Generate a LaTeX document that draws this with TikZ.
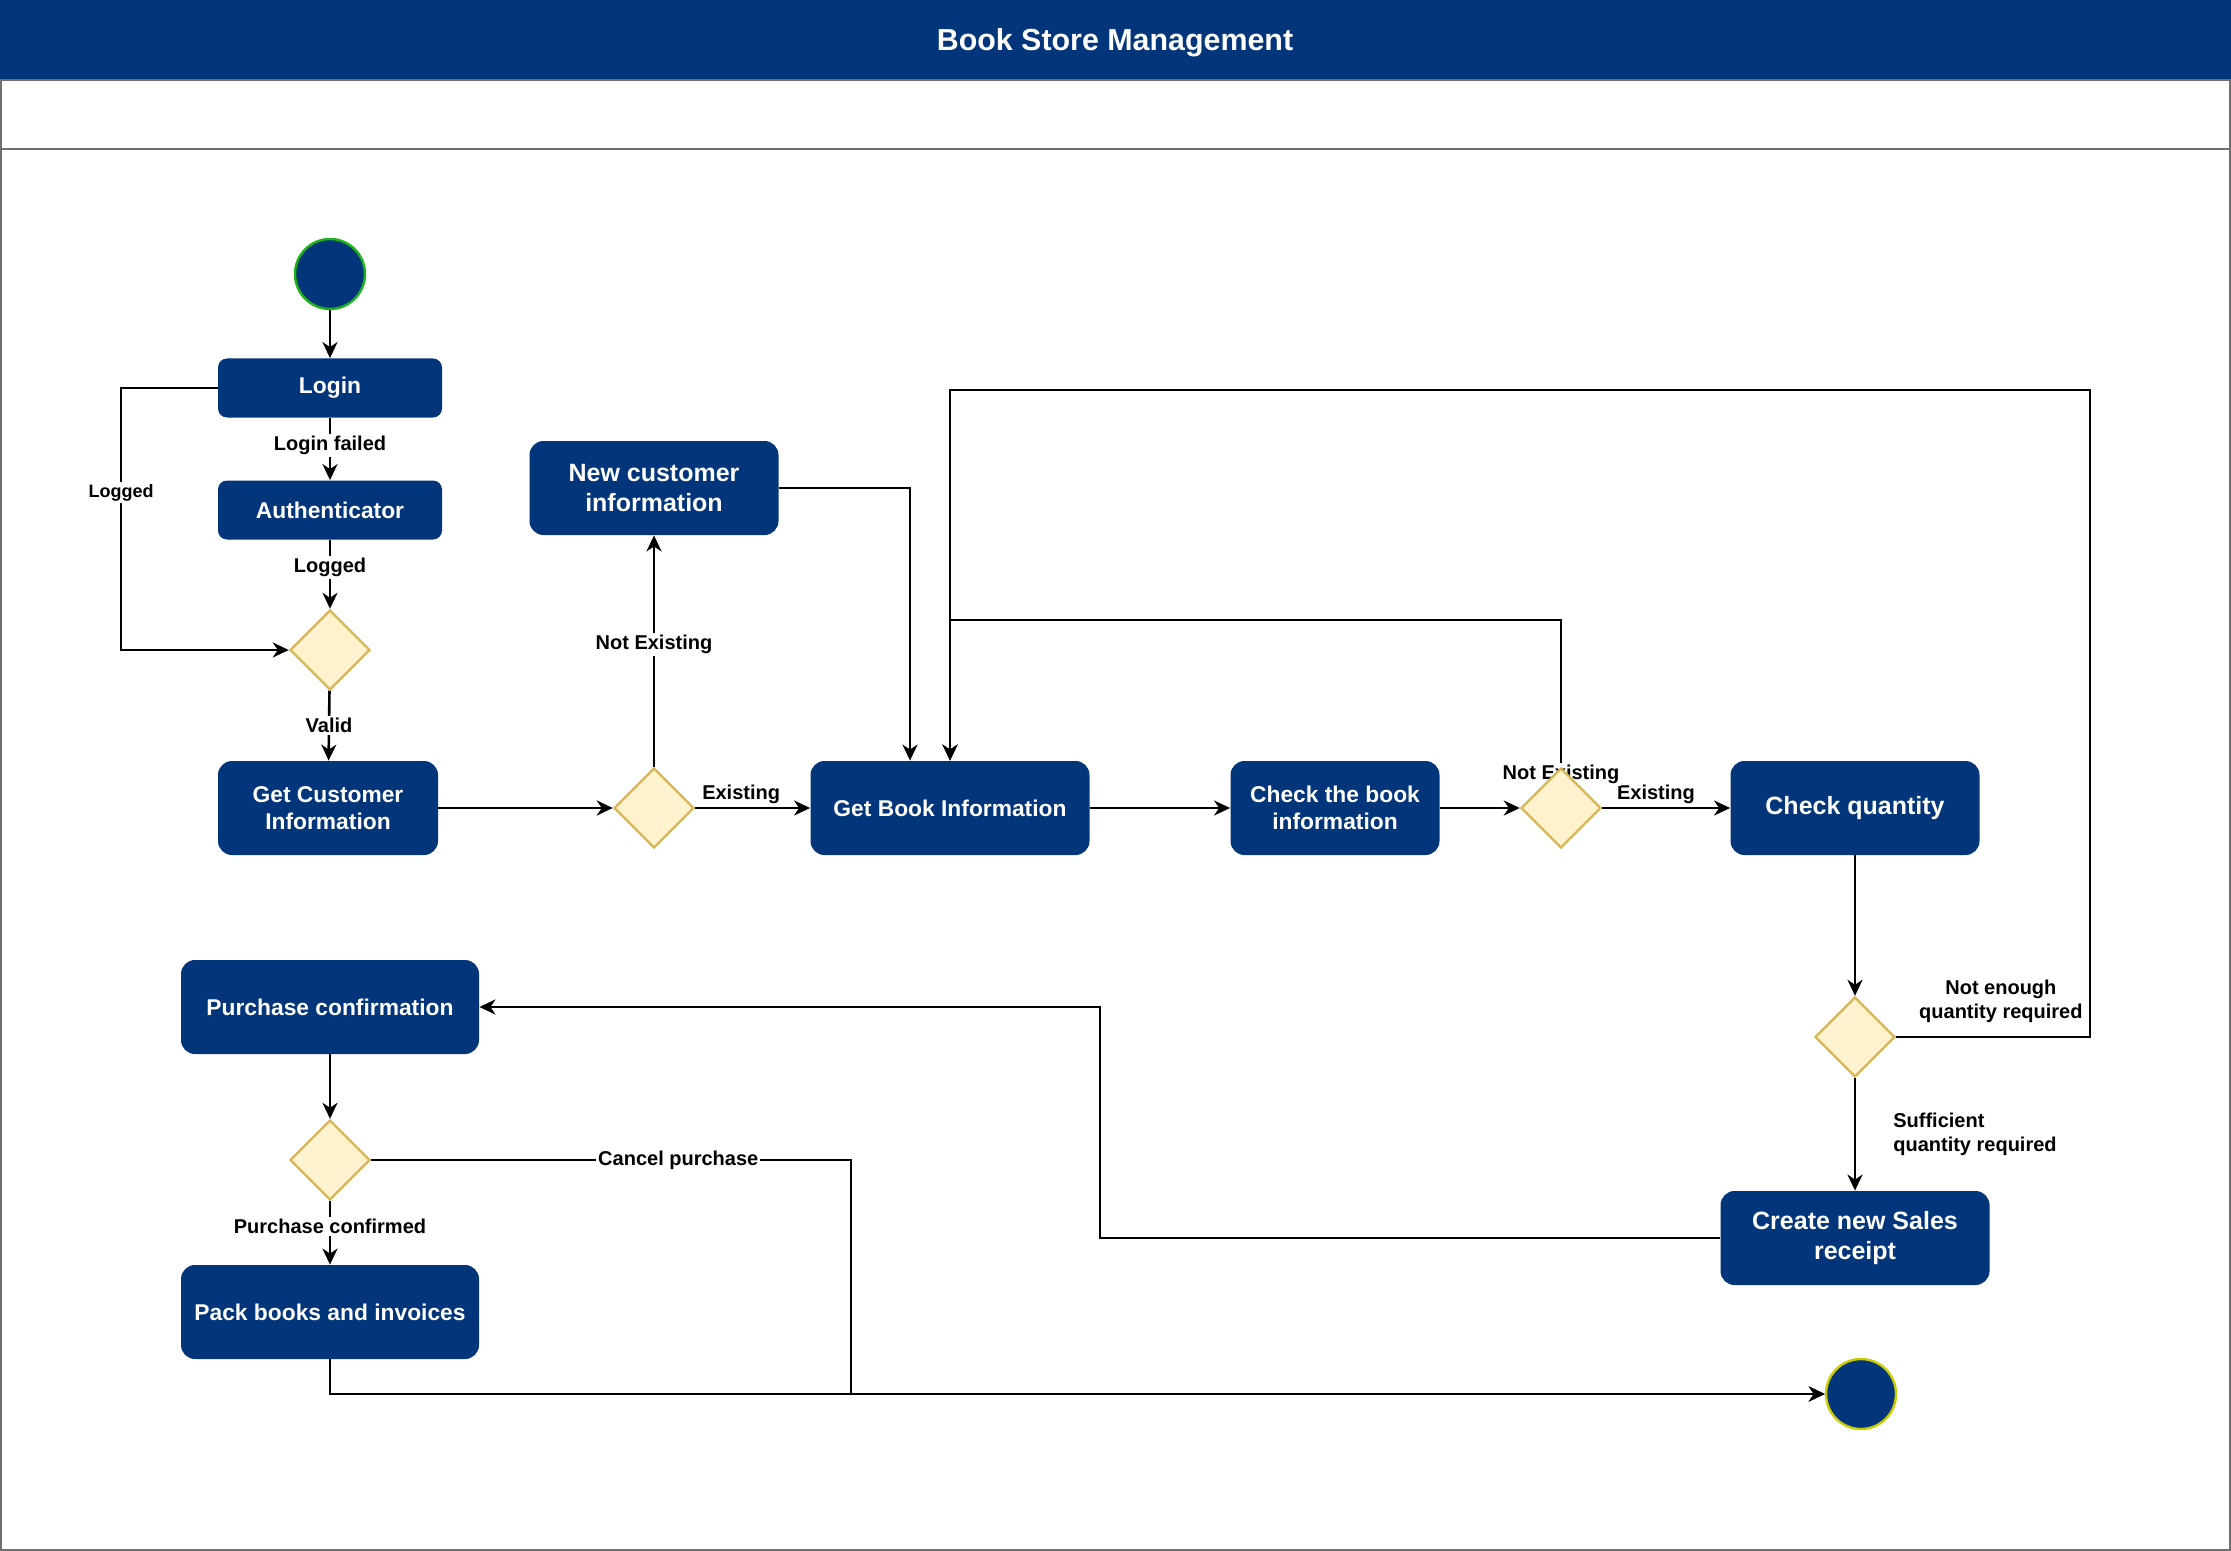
\documentclass[tikz,border=0pt]{standalone}
\usepackage{fontspec}
\setmainfont{Liberation Sans}
\usetikzlibrary{arrows.meta, shapes.geometric, backgrounds}
\definecolor{storeblue}{HTML}{02357A}
\definecolor{choicefill}{HTML}{FFF2CC}
\definecolor{choiceedge}{HTML}{D6B656}
\definecolor{startgreen}{HTML}{1DB31D}
\definecolor{endyellow}{HTML}{CCCC00}
\definecolor{framegray}{HTML}{707070}
\tikzset{
    action/.style={
        rectangle, rounded corners=7pt, fill=storeblue, text=white,
        font=\bfseries\fontsize{11.4}{13.6}\selectfont,
        align=center, inner sep=0pt, minimum height=47pt
    },
    smallaction/.style={action, rounded corners=4.5pt, minimum width=112pt, minimum height=29.5pt},
    bigaction/.style={action, font=\bfseries\fontsize{12.5}{15}\selectfont},
    choice/.style={
        diamond, draw=choiceedge, fill=choicefill, line width=1.2pt,
        inner sep=0pt, minimum width=40pt, minimum height=40pt
    },
    startdot/.style={circle, fill=storeblue, draw=startgreen, line width=1.2pt, minimum size=35pt, inner sep=0pt},
    enddot/.style={circle, fill=storeblue, draw=endyellow, line width=1.2pt, minimum size=35pt, inner sep=0pt},
    flow/.style={draw, line width=1.3pt, ->},
    lbl/.style={fill=white, text=black, inner sep=1pt, font=\bfseries\fontsize{10}{12}\selectfont},
    smalllbl/.style={lbl, font=\bfseries\fontsize{9}{11}\selectfont},
    titletext/.style={text=white, font=\bfseries\fontsize{15.2}{18}\selectfont}
}

\begin{document}
\begin{tikzpicture}[
    x=0.5pt, y=-0.5pt,
    >={Stealth[length=8pt, width=7.5pt, inset=2.5pt]}
]
    \useasboundingbox (0,0) rectangle (2231,1551);
    \fill[storeblue] (0,0) rectangle (2231,80);
    \draw[framegray, line width=0.8pt] (1,80) rectangle (2230,1550);
    \draw[framegray, line width=0.8pt] (1,149) -- (2230,149);
    \node[titletext] (title) at (1115,43) {Book Store Management};

    \node[startdot] (start) at (330,274) {};
    \node[smallaction] (login) at (330,388) {Login};
    \node[smallaction] (auth) at (330,510) {Authenticator};
    \node[choice] (valid) at (330,650) {};
    \node[action, minimum width=110pt] (customer) at (328,808) {Get Customer\\Information};
    \node[choice] (exists) at (654,808) {};
    \node[bigaction, minimum width=124.5pt] (newcustomer) at (654,488) {New customer\\information};
    \node[action, minimum width=139.5pt] (bookinfo) at (950,808) {Get Book Information};
    \node[action, minimum width=104.5pt] (checkbook) at (1335,808) {Check the book\\information};
    \node[choice] (bookfound) at (1561,808) {};
    \node[bigaction, minimum width=124.5pt] (quantity) at (1855,808) {Check quantity};
    \node[choice] (enough) at (1855,1037) {};
    \node[bigaction, minimum width=134.5pt] (receipt) at (1855,1238) {Create new Sales\\receipt};
    \node[action, minimum width=149pt] (confirm) at (330,1007) {Purchase confirmation};
    \node[choice] (decide) at (330,1160) {};
    \node[action, minimum width=149pt] (pack) at (330,1312) {Pack books and invoices};
    \node[enddot] (finish) at (1861,1394) {};

    \coordinate (loginturn) at (121,388);
    \coordinate (stockturn) at (1561,620);
    \coordinate (shortturn) at (2090,390);
    \coordinate (receiptturn) at (1100,1238);
    \coordinate (cancelturn) at (851,1160);

    \begin{scope}[on background layer]
        \draw[flow] (start) -- (login);
        \draw[flow] (login) -- node[lbl, pos=0.44] {Login failed} (auth);
        \draw[flow] (auth) -- node[lbl, pos=0.4] {Logged} (valid);
        \draw[flow] (login.west) -- (loginturn) |- node[smalllbl, pos=0.2] {Logged} (valid.west);
        \draw[flow] (valid) -- node[lbl] {Valid} (customer);
        \draw[flow] (customer) -- (exists);
        \draw[flow] (exists) -- node[lbl, pos=0.53] {Not Existing} (newcustomer);
        \draw[flow] (exists) -- node[lbl, above, pos=0.4, yshift=0.5pt] {Existing} (bookinfo);
        \draw[flow] (newcustomer.east) -| ([xshift=-20pt]bookinfo.north);
        \draw[flow] (bookinfo) -- (checkbook);
        \draw[flow] (checkbook) -- (bookfound);
        \draw[flow] (bookfound) -- node[lbl, above, pos=0.42, yshift=0.5pt] {Existing} (quantity);
        \draw[flow] (bookfound.north) -- node[lbl, pos=0, yshift=-4pt] {Not Existing} (stockturn) -| (bookinfo.north);
        \draw[flow] (quantity) -- (enough);
        \draw[flow] (enough.east) -| node[lbl, above, pos=0.27, yshift=5.5pt, align=center, fill=none] {Not enough\\quantity required} (shortturn) -| (bookinfo.north);
        \draw[flow] (enough) -- node[lbl, right, align=left, xshift=17.5pt] {Sufficient\\quantity required} (receipt);
        \draw[flow] (receipt.west) -- (receiptturn) |- (confirm.east);
        \draw[flow] (confirm) -- (decide);
        \draw[flow] (decide) -- node[lbl, pos=0.4] {Purchase confirmed} (pack);
        \draw[flow] (decide.east) -- node[lbl, pos=0.64] {Cancel purchase} (cancelturn) |- (finish.west);
        \draw[flow] (pack.south) |- (finish.west);
    \end{scope}
\end{tikzpicture}
\end{document}
